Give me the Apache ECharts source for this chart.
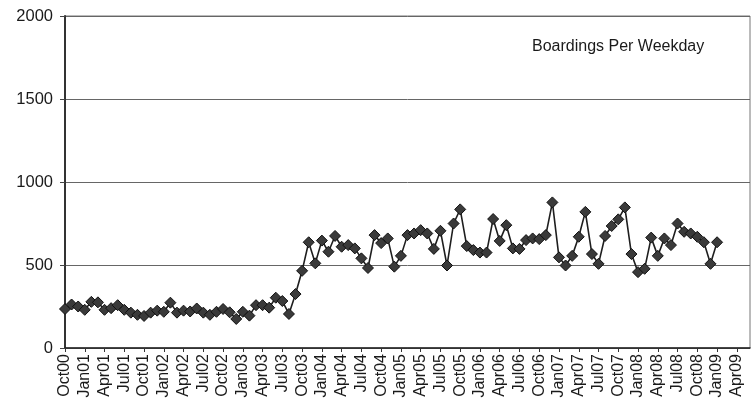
<!DOCTYPE html>
<html>
<head>
<meta charset="utf-8">
<script src="https://cdn.jsdelivr.net/npm/echarts@6/dist/echarts.min.js"></script>
<style>
  html, body { margin: 0; padding: 0; background: #fff; }
  #chart { width: 755px; height: 410px; }
</style>
</head>
<body>
<div id="chart"></div>
<script>
// Monthly axis, Oct 2000 through Jun 2009
const months = [
  'Oct00','Nov00','Dec00',
  'Jan01','Feb01','Mar01','Apr01','May01','Jun01','Jul01','Aug01','Sep01','Oct01','Nov01','Dec01',
  'Jan02','Feb02','Mar02','Apr02','May02','Jun02','Jul02','Aug02','Sep02','Oct02','Nov02','Dec02',
  'Jan03','Feb03','Mar03','Apr03','May03','Jun03','Jul03','Aug03','Sep03','Oct03','Nov03','Dec03',
  'Jan04','Feb04','Mar04','Apr04','May04','Jun04','Jul04','Aug04','Sep04','Oct04','Nov04','Dec04',
  'Jan05','Feb05','Mar05','Apr05','May05','Jun05','Jul05','Aug05','Sep05','Oct05','Nov05','Dec05',
  'Jan06','Feb06','Mar06','Apr06','May06','Jun06','Jul06','Aug06','Sep06','Oct06','Nov06','Dec06',
  'Jan07','Feb07','Mar07','Apr07','May07','Jun07','Jul07','Aug07','Sep07','Oct07','Nov07','Dec07',
  'Jan08','Feb08','Mar08','Apr08','May08','Jun08','Jul08','Aug08','Sep08','Oct08','Nov08','Dec08',
  'Jan09','Feb09','Mar09','Apr09','May09','Jun09'
];

// Quarterly labels shown under the axis
const tickLabels = [
  'Oct00','Jan01','Apr01','Jul01','Oct01','Jan02','Apr02','Jul02','Oct02',
  'Jan03','Apr03','Jul03','Oct03','Jan04','Apr04','Jul04','Oct04',
  'Jan05','Apr05','Jul05','Oct05','Jan06','Apr06','Jul06','Oct06',
  'Jan07','Apr07','Jul07','Oct07','Jan08','Apr08','Jul08','Oct08',
  'Jan09','Apr09'
];

// Average weekday boardings, Oct00 .. Jan09
const boardings = [
  235, 262, 250, 230, 278, 275, 230, 240, 258, 230, 213, 200,
  193, 213, 225, 218, 273, 213, 225, 220, 238, 213, 200, 218,
  235, 215, 175, 218, 195, 258, 258, 243, 303, 283, 205, 325,
  465, 637, 510, 647, 580, 675, 610, 620, 600, 540, 482, 680,
  632, 660, 490, 555, 680, 690, 710, 690, 597, 706, 497, 750,
  835, 614, 590, 575, 575, 777, 645, 740, 600, 597, 650, 660,
  656, 680, 877, 546, 497, 555, 670, 820, 566, 507, 675, 735,
  775, 847, 566, 457, 477, 665, 555, 660, 620, 750, 700, 690,
  670, 637, 507, 637
];

const yTicks = [0, 500, 1000, 1500, 2000];

const chart = echarts.init(document.getElementById('chart'));
const labelSet = new Set(tickLabels);

chart.setOption({
  animation: false,
  backgroundColor: '#ffffff',
  textStyle: { fontFamily: 'Liberation Sans, Arial, sans-serif' },
  title: {
    text: 'Boardings Per Weekday',
    left: 527,
    top: 34,
    textStyle: { fontSize: 16, fontWeight: 'normal', color: '#1a1a1a' }
  },
  grid: {
    left: 65, right: 5, top: 16, bottom: 62,
    show: true, borderColor: '#777', borderWidth: 1
  },
  xAxis: {
    type: 'category',
    data: months,
    boundaryGap: false,
    axisLine: { lineStyle: { color: '#222', width: 1.5 } },
    axisTick: {
      interval: (i, v) => labelSet.has(v),
      length: 4,
      lineStyle: { color: '#333' }
    },
    axisLabel: {
      interval: (i, v) => labelSet.has(v),
      rotate: 90,
      margin: 6,
      fontSize: 16,
      color: '#1a1a1a'
    },
    splitLine: { show: false }
  },
  yAxis: {
    type: 'value',
    min: yTicks[0],
    max: yTicks[yTicks.length - 1],
    interval: 500,
    axisLine: { show: true, lineStyle: { color: '#333', width: 2 } },
    axisTick: { show: true, length: 5, lineStyle: { color: '#444' } },
    axisLabel: {
      fontSize: 16.5, color: '#1a1a1a', margin: 12,
      formatter: v => String(v)
    },
    splitLine: { show: true, lineStyle: { color: '#666', width: 1 } }
  },
  series: [{
    type: 'line',
    data: boardings,
    symbol: 'diamond',
    symbolSize: 11,
    showAllSymbol: true,
    lineStyle: { color: '#1e1e1e', width: 1.6 },
    itemStyle: { color: '#3a3a3a', borderColor: '#111', borderWidth: 1 }
  }]
});
</script>
</body>
</html>
